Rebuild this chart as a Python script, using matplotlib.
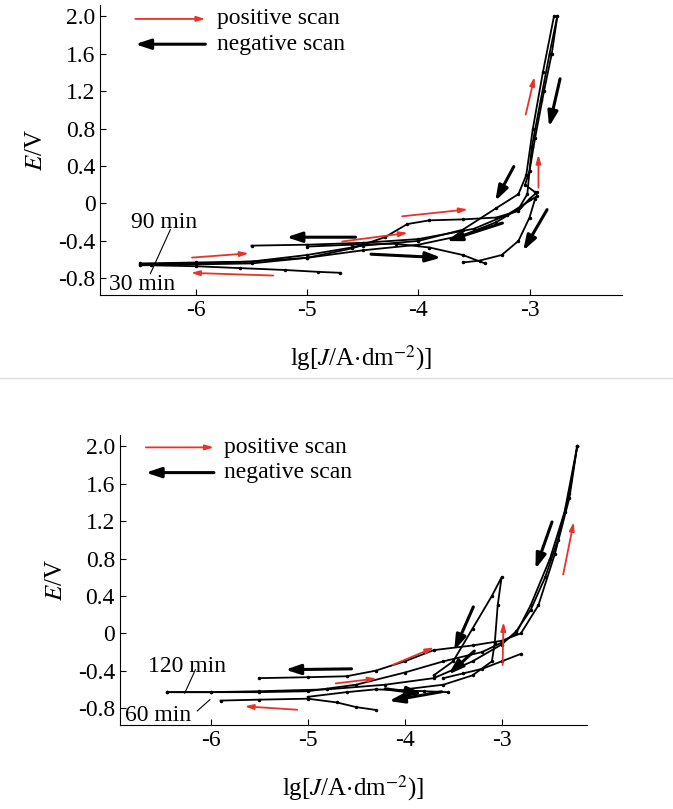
import matplotlib.pyplot as plt
from matplotlib.lines import Line2D

plt.rcParams['font.family'] = ['Liberation Serif', 'DejaVu Serif']
plt.rcParams['mathtext.fontset'] = 'stix'

# ---- dane: górny panel (30 min / 90 min) ----
top_fwd30_x = [-6.5, -6.0, -5.5, -5.0, -4.6, -4.3, -4.1, -3.9, -3.6, -3.3, -3.1, -3.0, -2.93]
top_fwd30_y = [-0.64, -0.63, -0.62, -0.58, -0.48, -0.36, -0.22, -0.18, -0.17, -0.15, -0.08, 0.05, 0.12]
top_fwd90_x = [-6.5, -6.0, -5.5, -5.0, -4.5, -4.0, -3.6, -3.3, -3.1, -3.02, -2.98, -2.9, -2.82, -2.75]
top_fwd90_y = [-0.66, -0.65, -0.64, -0.58, -0.5, -0.44, -0.34, -0.2, -0.06, 0.1, 0.6, 1.1, 1.6, 2.0]
top_neg1_x = [-2.75, -2.8, -2.87, -2.95, -3.0, -3.04, -2.95, -2.93, -3.2, -3.5, -4.0, -4.5, -5.0, -5.5]
top_neg1_y = [2.0, 1.6, 1.2, 0.7, 0.35, 0.2, 0.12, 0.08, -0.12, -0.27, -0.38, -0.42, -0.44, -0.45]
top_neg2_x = [-2.78, -2.88, -2.97, -3.03, -3.1, -3.3, -3.6, -4.0, -4.5, -5.0, -5.5, -6.0, -6.5]
top_neg2_y = [2.0, 1.4, 0.8, 0.3, 0.1, -0.05, -0.28, -0.4, -0.45, -0.55, -0.62, -0.64, -0.65]
top_low_x = [-2.95, -3.0, -3.1, -3.25, -3.45, -3.6]
top_low_y = [0.05, -0.15, -0.4, -0.55, -0.61, -0.63]
top_cross_x = [-5.0, -4.6, -4.2, -3.9, -3.6, -3.4]
top_cross_y = [-0.46, -0.44, -0.43, -0.47, -0.55, -0.64]
top_tail_x = [-6.4, -6.0, -5.6, -5.2, -4.9, -4.7]
top_tail_y = [-0.66, -0.67, -0.69, -0.71, -0.73, -0.74]

# ---- dolny panel (60 min / 120 min) ----
bot_fwd_x = [-6.45, -6.0, -5.5, -5.0, -4.5, -4.0, -3.6, -3.2, -3.0, -2.85, -2.7, -2.5, -2.35, -2.22]
bot_fwd_y = [-0.63, -0.63, -0.63, -0.62, -0.55, -0.42, -0.3, -0.2, -0.1, 0.0, 0.3, 0.8, 1.3, 2.0]
bot_fwd2_x = [-5.5, -5.0, -4.6, -4.3, -4.0, -3.7, -3.3, -3.0, -2.8, -2.62, -2.45, -2.3, -2.22]
bot_fwd2_y = [-0.48, -0.47, -0.46, -0.4, -0.3, -0.18, -0.13, -0.08, 0.0, 0.3, 0.85, 1.45, 2.0]
bot_neg_x = [-2.22, -2.3, -2.42, -2.55, -2.7, -2.85, -3.0, -3.3, -3.7, -4.2, -4.8, -5.5, -6.0, -6.45]
bot_neg_y = [2.0, 1.5, 1.0, 0.6, 0.25, 0.02, -0.12, -0.3, -0.48, -0.55, -0.6, -0.62, -0.63, -0.63]
bot_spike_x = [-3.7, -3.5, -3.3, -3.1, -3.0, -3.04, -3.07, -3.1, -3.3, -3.6, -4.0]
bot_spike_y = [-0.45, -0.3, 0.05, 0.4, 0.6, 0.3, -0.1, -0.3, -0.45, -0.55, -0.6]
bot_low_x = [-5.9, -5.5, -5.0, -4.7, -4.5, -4.3]
bot_low_y = [-0.72, -0.71, -0.7, -0.74, -0.79, -0.82]
bot_mid_x = [-5.0, -4.6, -4.3, -4.0, -3.8, -3.55]
bot_mid_y = [-0.68, -0.63, -0.6, -0.61, -0.62, -0.63]
bot_side_x = [-3.6, -3.4, -3.2, -3.0, -2.8]
bot_side_y = [-0.48, -0.43, -0.38, -0.3, -0.22]

# strzałki: (x0, y0, x1, y1, kolor)
top_arrows = [(-3.04, 0.92, -2.95, 1.38, 'r'), (-2.72, 1.36, -2.83, 0.79, 'k'),
              (-2.92, 0.14, -2.92, 0.55, 'r'), (-3.13, 0.42, -3.32, 0.0, 'k'),
              (-2.83, -0.04, -3.07, -0.53, 'k'), (-4.17, -0.14, -3.53, -0.06, 'r'),
              (-3.22, -0.2, -3.77, -0.41, 'k'), (-4.54, -0.36, -5.21, -0.36, 'k'),
              (-4.71, -0.41, -4.07, -0.31, 'r'), (-4.45, -0.54, -3.77, -0.58, 'k'),
              (-6.06, -0.58, -5.5, -0.53, 'r'), (-5.28, -0.77, -6.07, -0.74, 'r')]
bot_arrows = [(-2.47, 1.22, -2.66, 0.66, 'k'), (-2.37, 0.6, -2.25, 1.22, 'r'),
              (-3.28, 0.31, -3.5, -0.21, 'k'), (-2.99, -0.37, -2.98, 0.15, 'r'),
              (-4.15, -0.35, -3.67, -0.14, 'r'), (-3.26, -0.17, -3.57, -0.46, 'k'),
              (-4.52, -0.38, -5.26, -0.39, 'k'), (-4.74, -0.54, -4.26, -0.48, 'r'),
              (-4.23, -0.59, -3.79, -0.65, 'k'), (-3.59, -0.62, -4.19, -0.73, 'k'),
              (-5.08, -0.82, -5.68, -0.78, 'r')]

yticks = [-0.8, -0.4, 0, 0.4, 0.8, 1.2, 1.6, 2.0]
ytick_labels = ['-0.8', '-0.4', '0', '0.4', '0.8', '1.2', '1.6', '2.0']
xticks = [-6, -5, -4, -3]

fig = plt.figure(figsize=(6.73, 8.09), dpi=100)
fig.add_artist(Line2D([0, 1], [1 - 378 / 809] * 2, color='#dddddd', lw=1))


def draw_panel(ax, curves, arrows, xlim, leg_x, leg_y, labels):
    for xs, ys in curves:
        ax.plot(xs, ys, color='k', lw=1.3, marker='.', ms=3)
    for x0, y0, x1, y1, c in arrows:
        col = '#e8332a' if c == 'r' else 'k'
        if c == 'r':
            props = dict(arrowstyle='-|>,head_length=0.5,head_width=0.15', color=col, lw=1.3)
        else:
            props = dict(arrowstyle='-|>,head_length=0.9,head_width=0.3', color=col, lw=2.2)
        ax.annotate('', xy=(x1, y1), xytext=(x0, y0), arrowprops=props)
    # legenda ze strzałkami
    ax.annotate('', xy=(leg_x[1], leg_y[0]), xytext=(leg_x[0], leg_y[0]),
                arrowprops=dict(arrowstyle='-|>,head_length=0.5,head_width=0.15', color='#e8332a', lw=1.3))
    ax.annotate('', xy=(leg_x[0], leg_y[1]), xytext=(leg_x[1], leg_y[1]),
                arrowprops=dict(arrowstyle='-|>,head_length=0.9,head_width=0.3', color='k', lw=2.2))
    ax.text(leg_x[1] + 0.08, leg_y[0], 'positive scan', fontsize=17, va='center')
    ax.text(leg_x[1] + 0.08, leg_y[1], 'negative scan', fontsize=17, va='center')
    for txt, tx, ty, lx0, ly0, lx1, ly1 in labels:
        ax.text(tx, ty, txt, fontsize=17, ha='center', va='center')
        ax.plot([lx0, lx1], [ly0, ly1], color='k', lw=0.8)
    ax.set_xlim(*xlim)
    ax.set_ylim(-0.98, 2.12)
    ax.set_xticks(xticks)
    ax.set_xticklabels([str(t) for t in xticks])
    ax.set_yticks(yticks)
    ax.set_yticklabels(ytick_labels)
    ax.tick_params(direction='in', labelsize=17, length=4)
    for s in ['top', 'right']:
        ax.spines[s].set_visible(False)
    ax.set_ylabel('$E$/V', fontsize=18, labelpad=8)
    ax.set_xlabel('lg[$J$/A$\\cdot$dm$^{-2}$)]', fontsize=18, labelpad=16)


ax1 = fig.add_axes([0.149, 0.635, 0.775, 0.359])
draw_panel(ax1,
           [(top_fwd30_x, top_fwd30_y), (top_fwd90_x, top_fwd90_y), (top_neg1_x, top_neg1_y),
            (top_neg2_x, top_neg2_y), (top_low_x, top_low_y), (top_cross_x, top_cross_y),
            (top_tail_x, top_tail_y)],
           top_arrows, (-6.86, -2.17), (-6.57, -5.89), (1.97, 1.7),
           [('90 min', -6.29, -0.2, -6.23, -0.28, -6.41, -0.75),
            ('30 min', -6.48, -0.87, -6.41, -0.75, -6.41, -0.75)])

ax2 = fig.add_axes([0.178, 0.104, 0.694, 0.358])
draw_panel(ax2,
           [(bot_fwd_x, bot_fwd_y), (bot_fwd2_x, bot_fwd2_y), (bot_neg_x, bot_neg_y),
            (bot_spike_x, bot_spike_y), (bot_low_x, bot_low_y), (bot_mid_x, bot_mid_y),
            (bot_side_x, bot_side_y)],
           bot_arrows, (-6.94, -2.12), (-6.70, -5.94), (1.99, 1.72),
           [('120 min', -6.25, -0.35, -6.16, -0.39, -6.27, -0.64),
            ('60 min', -6.54, -0.88, -6.01, -0.71, -6.14, -0.83)])

fig.savefig('out.png', dpi=100)
